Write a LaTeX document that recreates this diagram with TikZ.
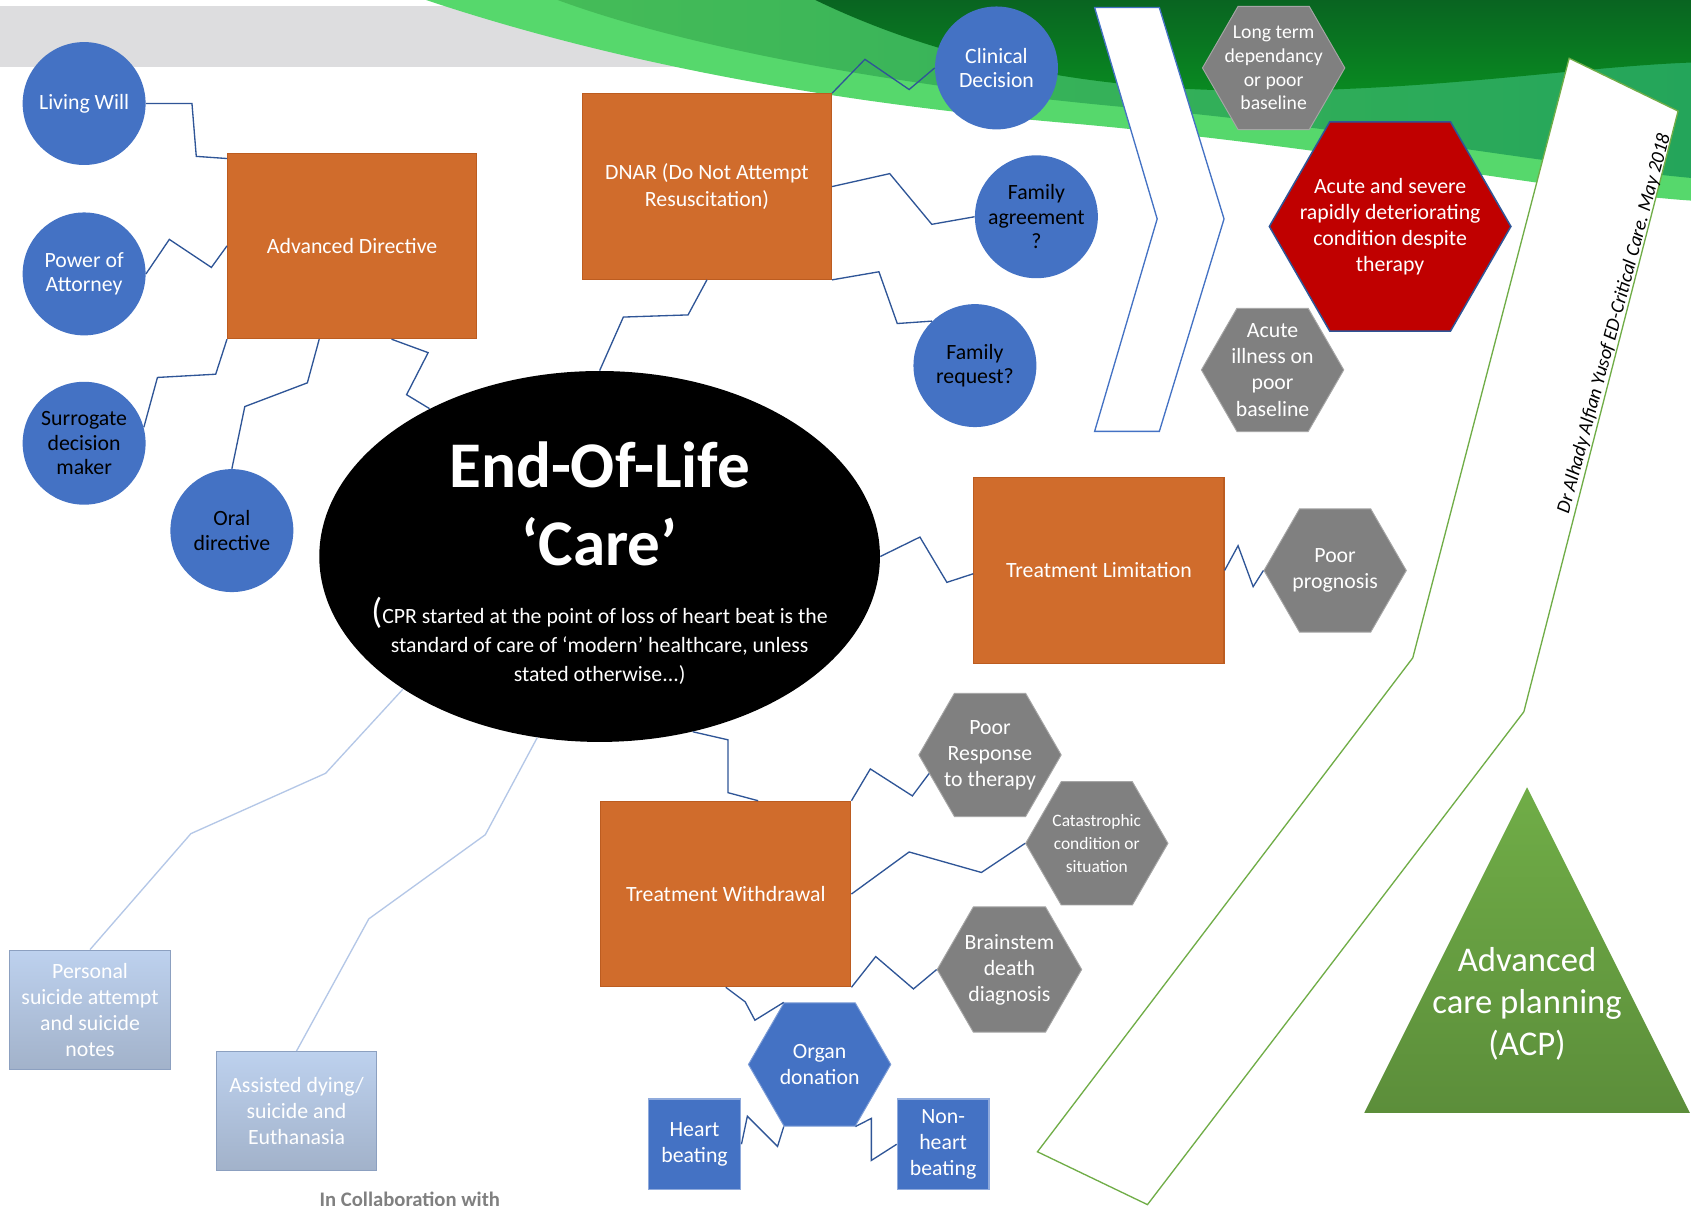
\documentclass[tikz,border=0pt]{standalone}
\usepackage{fontspec}
\setmainfont{Carlito}
\usetikzlibrary{shapes.geometric}

\definecolor{azul}{HTML}{4472C4}
\definecolor{azulosc}{HTML}{2F5597}
\definecolor{azulclaro}{HTML}{B4C7E7}
\definecolor{celeste}{HTML}{BDD1EE}
\definecolor{celeste2}{HTML}{A2B2CA}
\definecolor{celesteborde}{HTML}{8CA0C0}
\definecolor{naranja}{RGB}{208,108,44}
\definecolor{naranjaborde}{RGB}{188,92,32}
\definecolor{gris}{RGB}{128,128,128}
\definecolor{grisborde}{RGB}{166,166,166}
\definecolor{rojo}{HTML}{C00000}
\definecolor{franja}{HTML}{DDDDDF}
\definecolor{verdeclaro}{HTML}{56D86C}
\definecolor{verdemedio}{HTML}{45BC58}
\definecolor{verdeazul}{HTML}{24A55A}
\definecolor{verdeosc}{HTML}{0B7627}
\definecolor{verdeborde}{HTML}{70AD47}

\begin{document}
\begin{tikzpicture}[x=0.02cm, y=-0.02cm,
    circulo/.style={circle, fill=azul, minimum size=2.28cm, inner sep=0pt, align=center, font=\fontsize{11.5}{13}\selectfont},
    caja/.style={rectangle, fill=naranja, draw=naranjaborde, line width=0.6pt, minimum width=4.62cm, minimum height=3.44cm, text=white, align=center, font=\fontsize{11.5}{13.8}\selectfont},
    hexa/.style={regular polygon, regular polygon sides=6, minimum size=2.64cm, inner sep=0pt, fill=gris, draw=grisborde, line width=0.5pt},
    texto/.style={text=white, align=center, inner sep=0pt, font=\fontsize{11.5}{13.8}\selectfont},
    enlace/.style={draw=azulosc, line width=0.7pt},
    enlaceclaro/.style={draw=azulclaro, line width=0.7pt}]
    \useasboundingbox (0,0) rectangle (1568,1118);

    % Fondo: franja gris y onda verde
    \fill[white] (0,0) rectangle (1568,1118);
    \fill[franja] (0,6) rectangle (1568,62);
    \fill[verdeclaro] (395,0) .. controls (560,55) and (760,95) .. (1000,115)
        .. controls (1250,138) and (1450,178) .. (1568,186) -- (1568,0) -- cycle;
    \shade[left color=verdemedio, right color=verdeazul] (517,0) .. controls (640,45) and (830,80) .. (1050,100)
        .. controls (1250,118) and (1430,152) .. (1568,165) -- (1568,0) -- cycle;
    \shade[top color=verdeosc!85!black, bottom color=verdeosc!85!green] (756,0) .. controls (870,55) and (1000,82) .. (1150,84)
        .. controls (1320,86) and (1460,62) .. (1568,58) -- (1568,0) -- cycle;

    % Banda verde con el autor
    \draw[verdeborde, fill=white, line width=0.7pt] (1455,54) -- (1556,103) -- (1413,660) -- (1064,1117) -- (962,1068) -- (1310,610) -- cycle;
    \node[rotate=75, inner sep=0pt, font=\fontsize{10.3}{12}\selectfont\itshape] (autor) at (1497,300) {Dr Alhady Alfian Yusof ED-Critical Care. May 2018};

    % Flecha blanca
    \draw[azul, fill=white, line width=0.7pt] (1015,7) -- (1075,7) -- (1135,203) -- (1075,400) -- (1015,400) -- (1073,203) -- cycle;

    % Triangulo ACP
    \shade[top color=verdeborde, bottom color=verdeborde!82!black] (1416,730) -- (1567,1032) -- (1265,1032) -- cycle;
    \node[texto, font=\fontsize{18.3}{22}\selectfont] (acp) at (1416,931) {Advanced\\care planning\\(ACP)};

    % Elipse central
    \node[ellipse, fill=black, minimum width=10.4cm, minimum height=6.88cm, inner sep=0pt] (eol) at (556,516) {};
    \node[texto, font=\fontsize{34.4}{41.3}\selectfont\bfseries] (titulo) at (556,467) {End-Of-Life\\‘Care’};
    \node[texto, font=\fontsize{11.5}{15.3}\selectfont] (nota) at (556,594)
        {{\fontsize{19}{19}\selectfont(}CPR started at the point of loss of heart beat is the\\standard of care of ‘modern’ healthcare, unless\\stated otherwise...)};

    % Circulos azules
    \node[circulo, text=white] (lw) at (78,96) {Living Will};
    \node[circulo, text=white] (poa) at (78,254) {Power of\\Attorney};
    \node[circulo] (sdm) at (78,411) {Surrogate\\decision\\maker};
    \node[circulo] (oral) at (215,492) {Oral\\directive};
    \node[circulo, text=white] (cd) at (924,63) {Clinical\\Decision};
    \node[circulo] (fa) at (961,201) {Family\\agreement\\?};
    \node[circulo] (fr) at (904,339) {Family\\request?};

    % Cajas naranjas
    \node[caja] (ad) at (326.5,228) {Advanced Directive};
    \node[caja] (dnar) at (655.5,173) {DNAR (Do Not Attempt\\Resuscitation)};
    \node[caja, minimum width=4.64cm] (tl) at (1019,529) {Treatment Limitation};
    \node[caja, minimum width=4.64cm] (tw) at (673,829) {Treatment Withdrawal};

    % Hexagonos
    \node[hexa] (lt) at (1181,63) {};
    \node[texto, font=\fontsize{10.4}{12.5}\selectfont] (lt-t) at (lt) {Long term\\dependancy\\or poor\\baseline};
    \node[hexa, minimum size=4.48cm, fill=rojo, draw=azulosc, line width=0.8pt] (ac) at (1289,210) {};
    \node[texto] (ac-t) at (ac) {Acute and severe\\rapidly deteriorating\\condition despite\\therapy};
    \node[hexa] (ai) at (1180,343) {};
    \node[texto] (ai-t) at (ai) {Acute\\illness on\\poor\\baseline};
    \node[hexa] (pp) at (1238,529) {};
    \node[texto] (pp-t) at (pp) {Poor\\prognosis};
    \node[hexa] (pr) at (918,700) {};
    \node[texto] (pr-t) at (pr) {Poor\\Response\\to therapy};
    \node[hexa] (cat) at (1017,782) {};
    \node[texto, font=\fontsize{9.2}{12}\selectfont] (cat-t) at (cat) {Catastrophic\\condition or\\situation};
    \node[hexa, minimum size=2.68cm] (bs) at (936,899) {};
    \node[texto] (bs-t) at (bs) {Brainstem\\death\\diagnosis};
    \node[hexa, fill=azul, draw=azul!70!white] (od) at (760,987) {};
    \node[texto] (od-t) at (od) {Organ\\donation};

    % Cajas azules
    \node[caja, fill=azul, draw=azul!60!white, minimum width=1.72cm, minimum height=1.68cm] (hb) at (644,1061) {Heart\\beating};
    \node[caja, fill=azul, draw=azul!60!white, minimum width=1.7cm, minimum height=1.68cm] (nh) at (874.5,1061) {Non-\\heart\\beating};
    \node[caja, top color=celeste, bottom color=celeste2, draw=celesteborde, minimum width=2.98cm, minimum height=2.22cm] (ps) at (83.5,936.5) {Personal\\suicide attempt\\and suicide\\notes};
    \node[caja, top color=celeste, bottom color=celeste2, draw=celesteborde, minimum width=2.96cm, minimum height=2.2cm] (as) at (275,1030) {Assisted dying/\\suicide and\\Euthanasia};

    % Enlaces en zigzag
    \draw[enlace] (lw.east) -- (178,96) -- (182,145) -- (ad.west |- 0,147);
    \draw[enlace] (poa.east) -- (157,222) -- (196,248) -- (ad.west);
    \draw[enlace] (sdm.15) -- (146,350) -- (200,347) -- (ad.south west);
    \draw[enlace] (oral.north) -- (227,377) -- (285,355) -- (ad.south -| 296,0);
    \draw[enlace] (ad.south -| 363,0) -- (397,327) -- (377,366) -- (eol.139);
    \draw[enlace] (dnar.south) -- (638,292) -- (578,294) -- (eol.north);
    \draw[enlace] (dnar.north east) -- (802,55) -- (843,83) -- (cd.west);
    \draw[enlace] (dnar.east) -- (825,161) -- (864,208) -- (fa.west);
    \draw[enlace] (dnar.south east) -- (815,252) -- (832,300) -- (fr.134);
    \draw[enlace] (eol.east) -- (853,498) -- (878,540) -- (tl.west |- 0,532);
    \draw[enlace] (tl.east) -- (1148,506) -- (1162,544) -- (pp.west);
    \draw[enlace] (eol.-62) -- (675,686) -- (675,735) -- (tw.north -| 703,0);
    \draw[enlace] (tw.north east) -- (807,713) -- (846,738) -- (pr.197);
    \draw[enlace] (tw.east) -- (843,790) -- (910,809) -- (cat.west);
    \draw[enlace] (tw.south east) -- (812,887) -- (847,917) -- (bs.west);
    \draw[enlace] (tw.south) -- (691,929) -- (700,946) -- (od.120);
    \draw[enlace] (od.240) -- (721,1063) -- (693,1035) -- (hb.east);
    \draw[enlace] (od.300) -- (808,1037) -- (808,1076) -- (nh.west);
    \draw[enlaceclaro] (eol.214) -- (302,717) -- (177,773) -- (ps.north);
    \draw[enlaceclaro] (eol.251) -- (450,774) -- (342,852) -- (as.north);

    % Pie
    \node[anchor=base, inner sep=0pt, text=gris, font=\fontsize{10.9}{13}\selectfont\bfseries] (colab) at (380,1119) {In Collaboration with};
\end{tikzpicture}
\end{document}
